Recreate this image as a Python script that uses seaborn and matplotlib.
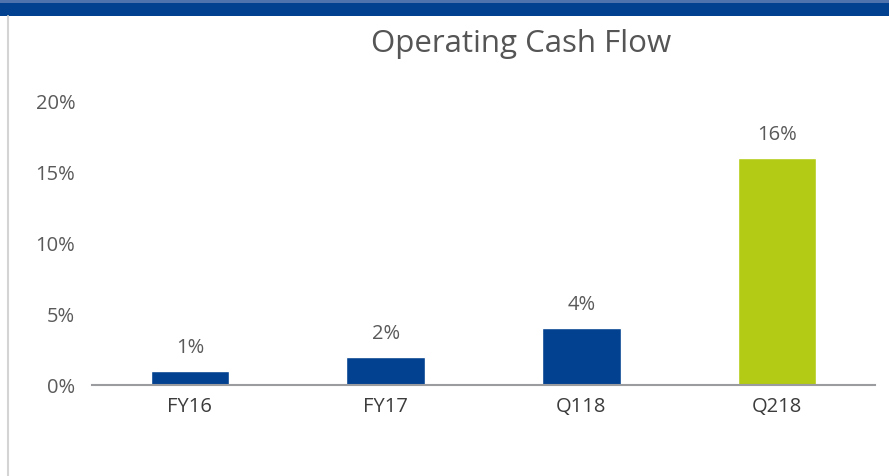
import matplotlib
matplotlib.use("Agg")
import matplotlib.pyplot as plt
import seaborn as sns
import pandas as pd
from matplotlib.patches import Rectangle
from matplotlib.lines import Line2D

categories = ["FY16", "FY17", "Q118", "Q218"]
values = [1, 2, 4, 16]
value_labels = ["1%", "2%", "4%", "16%"]
yticks = [0, 5, 10, 15, 20]
ytick_labels = ["0%", "5%", "10%", "15%", "20%"]
title = "Operating Cash Flow"

BLUE = "#02418f"
GREEN = "#b3cb14"
bar_colors = [BLUE, BLUE, BLUE, GREEN]

sns.set_theme(style="white")
plt.rcParams["font.family"] = ["Open Sans", "DejaVu Sans"]

df = pd.DataFrame({"cat": categories, "val": values})

fig = plt.figure(figsize=(8.89, 4.77), dpi=100)
ax = fig.add_axes([92/889, 1-386/477, (875-92)/889, (386-102)/477])

sns.barplot(data=df, x="cat", y="val", hue="cat", palette=bar_colors,
            width=0.4, ax=ax, legend=False, saturation=1)

ax.set_ylim(0, 20)
ax.set_xlim(-0.5, 3.5)
ax.set_yticks(yticks)
ax.set_yticklabels(ytick_labels, color="#5a5a5a", fontsize=14.5)
ax.tick_params(axis="y", length=0, pad=12)
ax.tick_params(axis="x", length=0, pad=8)
for t in ax.get_xticklabels():
    t.set_color("#3c3c3c")
    t.set_fontsize(14.5)
    t.set_fontweight("medium")
ax.set_xlabel("")
ax.set_ylabel("")
for s in ["top", "right", "left"]:
    ax.spines[s].set_visible(False)
ax.spines["bottom"].set_color("#9a9ca0")
ax.spines["bottom"].set_linewidth(1.5)

for i, (v, lab) in enumerate(zip(values, value_labels)):
    ax.annotate(lab, (i, v), xytext=(0, 10), textcoords="offset points",
                ha="center", va="bottom", fontsize=14.5, color="#5a5a5a")

fig.text(521/889, 1-44/477, title, ha="center", va="center",
         fontsize=22.5, color="#555555")

# top banner and left rule
fig.add_artist(Rectangle((0, 1-17/477), 1, 17/477, transform=fig.transFigure,
                         facecolor=BLUE, edgecolor="none"))
fig.add_artist(Rectangle((0, 1-4/477), 1, 4/477, transform=fig.transFigure,
                         facecolor="#4f74ad", edgecolor="none"))
fig.add_artist(Line2D([7.5/889, 7.5/889], [0, 1-17/477], transform=fig.transFigure,
                      color="#d4d4d4", linewidth=1.5))

fig.savefig("out.png", dpi=100)
